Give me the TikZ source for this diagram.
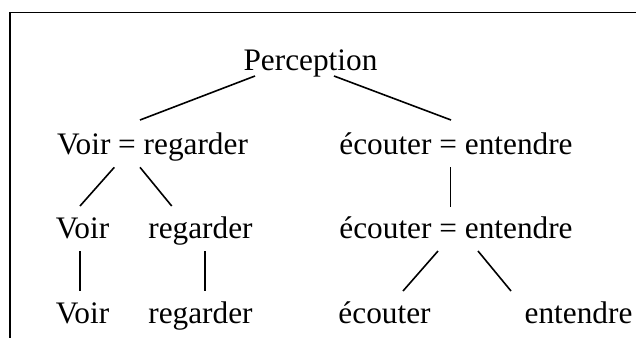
\documentclass[tikz,border=0pt]{standalone}
\usepackage{fontspec}
\setmainfont{Liberation Serif}
\usepackage{tikz}
\usetikzlibrary{calc}

\tikzset{
  word/.style={anchor=base, inner sep=0pt, font=\fontsize{31.3}{36}\selectfont},
  branch/.style={line width=1.6pt}
}

\begin{document}
\begin{tikzpicture}[x=1pt, y=-1pt]
  \useasboundingbox (0,0) rectangle (636,338);
  % frame (cut on the right and at the bottom)
  \draw[line width=1.8pt] (636,12.5) -- (10,12.5) -- (10,338);

  \node[word] (perc) at (310.5,70.5) {Perception};
  \node[word] (vr)   at (152.5,154)  {Voir = regarder};
  \node[word] (ee)   at (456,154)    {écouter = entendre};
  \node[word] (v1)   at (82.5,238.7) {Voir};
  \node[word] (r1)   at (200.5,238.7) {regarder};
  \node[word] (ee2)  at (456,238.7)  {écouter = entendre};
  \node[word] (v2)   at (82.5,323)   {Voir};
  \node[word] (r2)   at (200.5,323)  {regarder};
  \node[word] (e2)   at (384.5,323)  {écouter};
  \node[word] (n2)   at (578.5,323)  {entendre};

  \path[branch]
  ($(perc.base)+(-55.5,5.5)$) edge ($(vr.base)+(-12.5,-34)$)
  ($(perc.base)+(23.5,5.5)$)  edge ($(ee.base)+(-5,-34)$)
  ;
  \path[branch]
  ($(vr.base)+(-38.2,13.3)$) edge ($(v1.base)+(-2.5,-32.7)$)
  ($(vr.base)+(-12.5,13.3)$) edge ($(r1.base)+(-28.8,-32.7)$)
  ($(ee.base)+(-5.7,13.3)$)  edge ($(ee2.base)+(-5.7,-32)$)
  ;
  \path[branch]
  ($(v1.base)+(-2.5,12.3)$)  edge ($(v2.base)+(-2.5,-32)$)
  ($(r1.base)+(4.5,12.3)$)   edge ($(r2.base)+(4.5,-32)$)
  ($(ee2.base)+(-18,12.3)$)  edge ($(e2.base)+(18.5,-32)$)
  ($(ee2.base)+(22,12.3)$)   edge ($(n2.base)+(-67.5,-32)$)
  ;
\end{tikzpicture}
\end{document}
